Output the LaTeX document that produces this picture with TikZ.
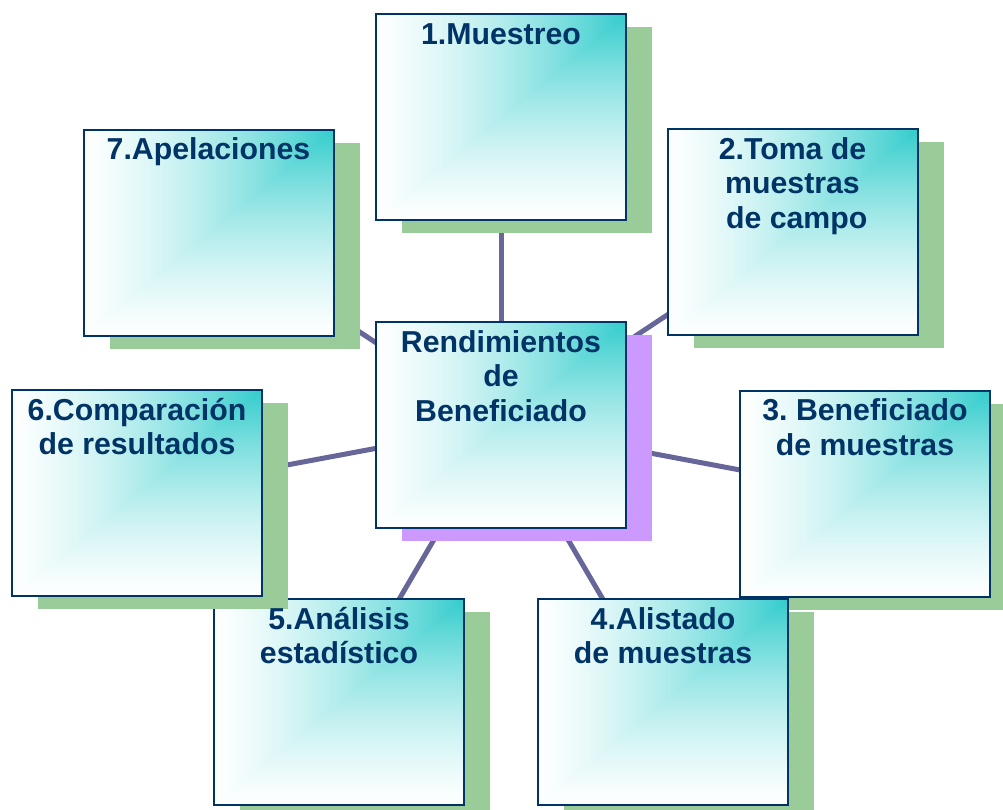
\documentclass[tikz,border=0pt]{standalone}
\usepackage{fontspec}
\setmainfont{Liberation Sans}
\usepackage{xcolor}
\usepackage{tikz}
\usetikzlibrary{positioning,shadows}
\definecolor{azulosc}{HTML}{003366}
\definecolor{lila}{HTML}{666699}
\definecolor{verde}{HTML}{99CC99}
\definecolor{morado}{HTML}{CC99FF}
% blanco abajo/izquierda, turquesa en la esquina superior derecha
\pgfdeclarefunctionalshading{esquina}{\pgfpoint{-50bp}{-50bp}}{\pgfpoint{50bp}{50bp}}{}{
  25 add 50 div exch 25 add 50 div
  2 copy gt {exch} if pop
  dup 0 lt {pop 0} if dup 1 gt {pop 1} if
  dup dup mul add 2 div
  dup 0.8 mul 1 exch sub exch
  dup 0.2 mul 1 exch sub exch
  0.2 mul 1 exch sub
}
\pgfdeclarelayer{fondo}
\pgfsetlayers{fondo,main}
\tikzset{
  caja/.style={draw=azulosc, line width=1.5pt, shading=esquina,
    minimum width=187.5pt, minimum height=154.5pt, inner sep=0pt, outer sep=0pt,
    drop shadow={shadow xshift=19.5pt, shadow yshift=-9.75pt, fill=#1, opacity=1}},
  caja/.default=verde,
  etiqueta/.style={font=\bfseries\fontsize{22.7}{25.9}\selectfont, text=azulosc,
    align=center, inner sep=0pt},
  enlace/.style={lila, line width=3.75pt},
}

\begin{document}
\begin{tikzpicture}[x=0.75pt,y=-0.75pt]
\useasboundingbox (0,0) rectangle (1003,810);
\clip (0,0) rectangle (1003,810);

\node[caja=morado] (centro) at (501,425) {};
\node[caja] (paso1) at (501,117) {};
\node[caja] (paso2) at (792.5,232) {};
\node[caja] (paso3) at (865,493.5) {};
\node[caja] (paso4) at (663,702) {};
\node[caja] (paso5) at (339,702) {};
\node[caja] (paso6) at (137,493) {};
\node[caja] (paso7) at (208.5,232.5) {};

\node[etiqueta, below=4.4pt of centro.north] (tcentro) {\strut Rendimientos\\de\\Beneficiado};
\node[etiqueta, below=4.4pt of paso1.north] (t1) {\strut 1.Muestreo};
\node[etiqueta, below=4.4pt of paso2.north] (t2) {\strut 2.Toma de\\muestras\\\ de campo};
\node[etiqueta, below=4.4pt of paso3.north] (t3) {\strut 3.\ Beneficiado\\de muestras};
\node[etiqueta, below=4.4pt of paso4.north] (t4) {\strut 4.Alistado\\de muestras};
\node[etiqueta, below=4.4pt of paso5.north] (t5) {\strut 5.Análisis\\estadístico};
\node[etiqueta, below=4.4pt of paso6.north] (t6) {\strut 6.Comparación\\de resultados};
\node[etiqueta, below=4.4pt of paso7.north] (t7) {\strut 7.Apelaciones};

\begin{pgfonlayer}{fondo}
\foreach \i in {1,...,7}
  \draw[enlace] (centro.center) -- (paso\i.center);
\end{pgfonlayer}
\end{tikzpicture}
\end{document}
